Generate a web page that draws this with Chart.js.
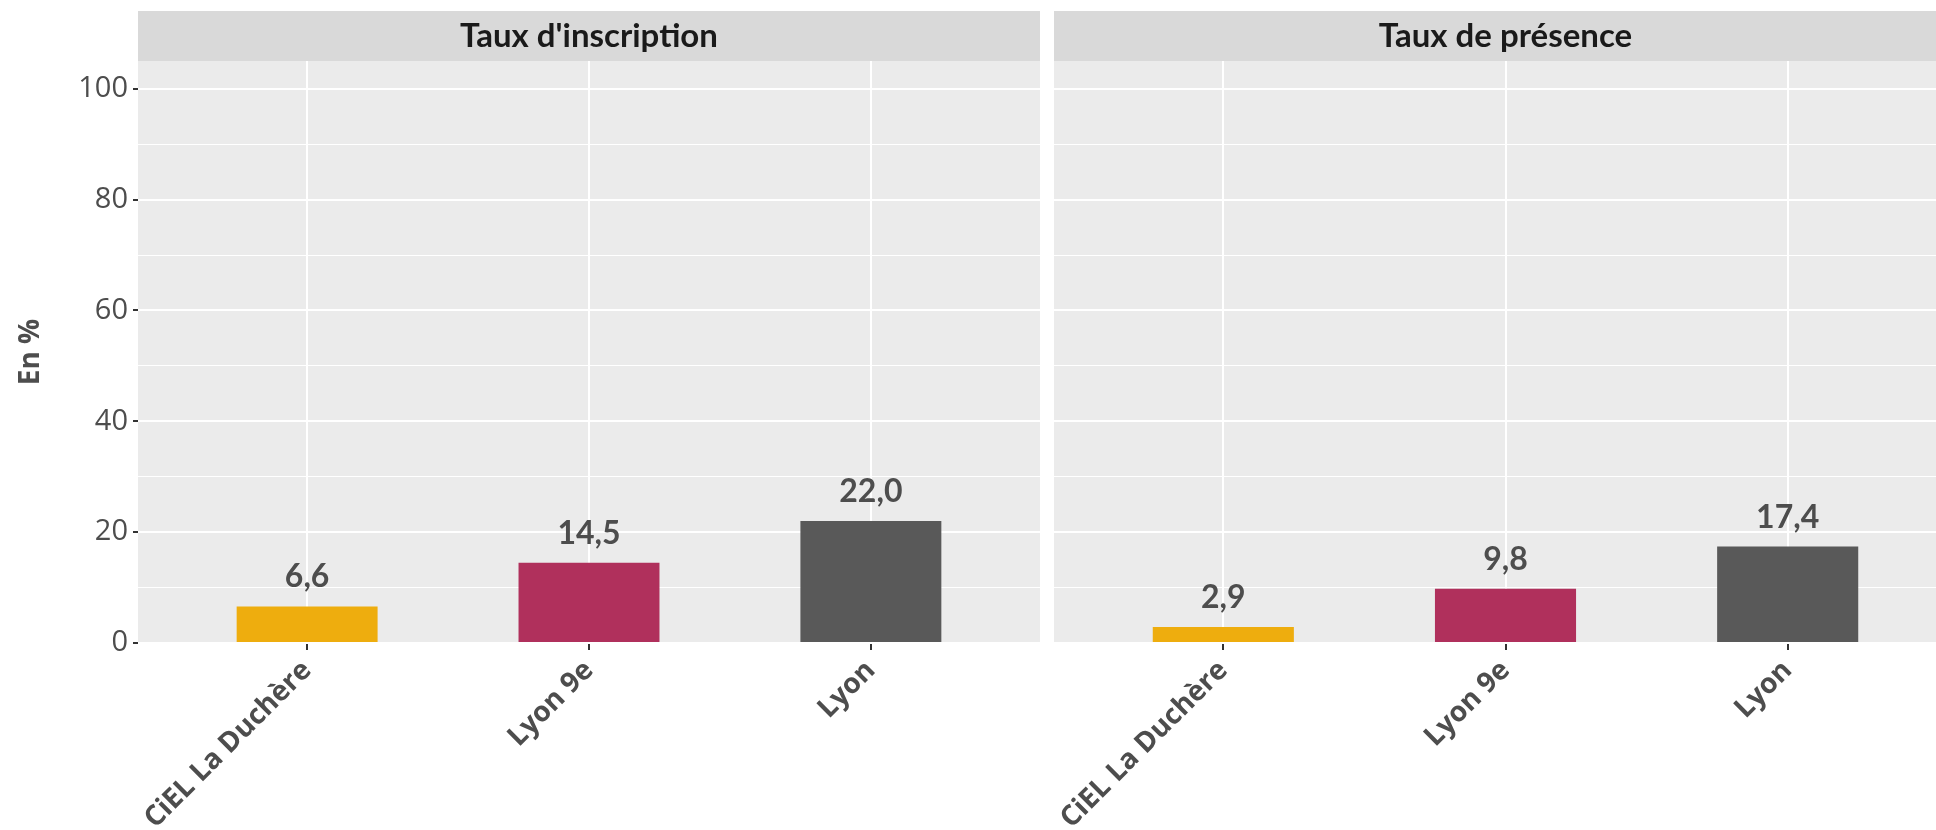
<!DOCTYPE html>
<html>
<head>
<meta charset="utf-8">
<script src="https://cdn.jsdelivr.net/npm/chart.js@4"></script>
<style>
  html, body { margin: 0; padding: 0; background: #fff; }
  #wrap { position: relative; width: 1936px; height: 830px; overflow: hidden; }
  canvas { position: absolute; top: 0; }
</style>
</head>
<body>
<div id="wrap">
  <canvas id="left" width="1040" height="830" style="left:0"></canvas>
  <canvas id="right" width="930" height="830" style="left:1040px"></canvas>
</div>
<script>
// Données
const categories = ['CiEL La Duchère', 'Lyon 9e', 'Lyon'];
const panels = ["Taux d'inscription", 'Taux de présence'];
const inscription = [6.6, 14.5, 22.0];
const presence = [2.9, 9.8, 17.4];
const yTicks = [0, 20, 40, 60, 80, 100];
const colors = ['#EEAD0E', '#B0305C', '#595959'];

const fmt = v => v.toFixed(1).replace('.', ',');

// Fond du panneau + bandeau du titre + étiquettes de valeurs
const panelPlugin = {
  id: 'panel',
  beforeDraw(chart) {
    const { ctx, chartArea: a } = chart;
    ctx.save();
    ctx.fillStyle = '#EBEBEB';
    ctx.fillRect(a.left, a.top, a.right - a.left, a.bottom - a.top);
    ctx.fillStyle = '#D9D9D9';
    ctx.fillRect(a.left, a.top - 50, a.right - a.left, 50);
    ctx.fillStyle = '#1A1A1A';
    ctx.font = 'bold 33px Lato';
    ctx.textAlign = 'center';
    ctx.textBaseline = 'middle';
    ctx.fillText(chart.options.plugins.panel.title, (a.left + a.right) / 2, a.top - 25);
    ctx.restore();
  },
  afterDatasetsDraw(chart) {
    const { ctx } = chart;
    const meta = chart.getDatasetMeta(0);
    const data = chart.data.datasets[0].data;
    ctx.save();
    ctx.fillStyle = '#4D4D4D';
    ctx.font = 'bold 32px Lato';
    ctx.textAlign = 'center';
    ctx.textBaseline = 'alphabetic';
    meta.data.forEach((bar, i) => {
      ctx.fillText(fmt(data[i].y), bar.x, bar.y - 19);
    });
    ctx.restore();
  }
};

const isMajor = ctx => ctx.tick && yTicks.includes(ctx.tick.value);

function makeChart(id, title, values, showY, yWidth, padRight) {
  return new Chart(document.getElementById(id), {
    type: 'bar',
    data: {
      datasets: [{
        data: values.map((v, i) => ({ x: i + 1, y: v })),
        backgroundColor: colors,
        borderWidth: 0,
        barPercentage: 0.5,
        categoryPercentage: 1
      }]
    },
    options: {
      responsive: false,
      animation: false,
      events: [],
      layout: { padding: { top: 61, right: padRight, left: 0, bottom: 0 } },
      plugins: {
        legend: { display: false },
        tooltip: { enabled: false },
        panel: { title: title }
      },
      scales: {
        x: {
          type: 'linear',
          min: 0.4,
          max: 3.6,
          offset: false,
          border: { display: false },
          grid: { offset: false, color: '#FFFFFF', lineWidth: 2, tickColor: '#333333', tickLength: 7 },
          afterBuildTicks: s => { s.ticks = categories.map((c, i) => ({ value: i + 1 })); },
          afterFit: s => { s.height = 187; s.paddingLeft = 0; s.paddingRight = 0; },
          ticks: {
            autoSkip: false,
            maxRotation: 45,
            minRotation: 45,
            padding: 4,
            color: '#4D4D4D',
            font: { family: 'Open Sans', weight: 'bold', size: 28 },
            callback: v => categories[v - 1]
          }
        },
        y: {
          min: 0,
          max: 105,
          border: { display: false },
          grid: {
            color: '#FFFFFF',
            lineWidth: ctx => isMajor(ctx) ? 2 : 1,
            drawTicks: showY,
            tickLength: 5,
            tickColor: ctx => isMajor(ctx) ? '#333333' : 'rgba(0,0,0,0)'
          },
          // grille majeure (yTicks) + mineure entre deux
          afterBuildTicks: s => {
            s.ticks = [];
            yTicks.forEach((v, i) => {
              s.ticks.push({ value: v });
              if (i < yTicks.length - 1) s.ticks.push({ value: (v + yTicks[i + 1]) / 2 });
            });
          },
          afterFit: s => { s.width = yWidth; s.paddingTop = 0; s.paddingBottom = 0; },
          ticks: {
            display: showY,
            padding: 5,
            color: '#4D4D4D',
            font: { family: 'Open Sans', size: 29 },
            callback: v => yTicks.includes(v) ? v : ''
          },
          title: {
            display: showY,
            text: 'En %',
            color: '#4D4D4D',
            padding: { top: 14 },
            font: { family: 'Open Sans', weight: 'bold', size: 28 }
          }
        }
      }
    },
    plugins: [panelPlugin]
  });
}

Promise.all([
  document.fonts.load('29px "Open Sans"'),
  document.fonts.load('bold 28px "Open Sans"'),
  document.fonts.load('bold 32px Lato')
]).catch(() => {}).then(() => {
  makeChart('left', panels[0], inscription, true, 138, 0);
  makeChart('right', panels[1], presence, false, 14, 13);
});
</script>
</body>
</html>
